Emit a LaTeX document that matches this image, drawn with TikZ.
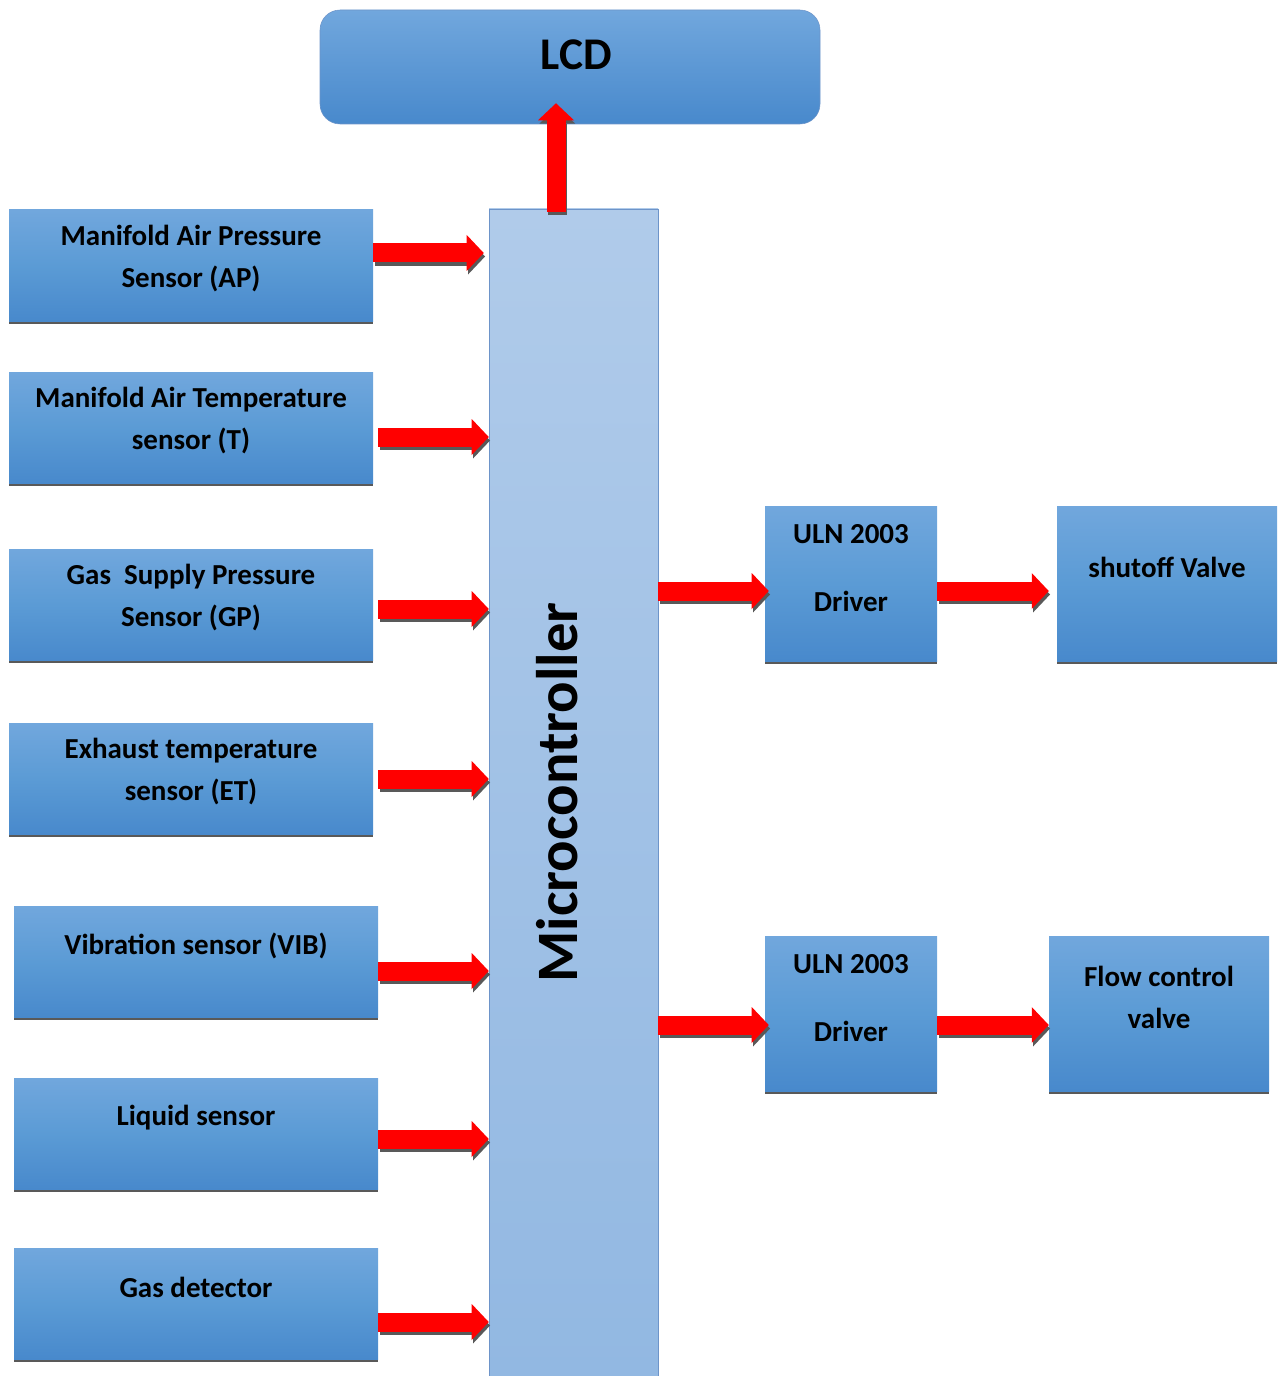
\documentclass[tikz,border=0pt]{standalone}
\usepackage{fontspec}
\setmainfont{Carlito}
\usetikzlibrary{arrows.meta, positioning, calc, shadows}

\definecolor{boxtop}{RGB}{113,167,221}
\definecolor{boxmid}{RGB}{91,155,213}
\definecolor{boxbot}{RGB}{72,137,204}
\definecolor{mctop}{RGB}{176,203,234}
\definecolor{mcbot}{RGB}{146,184,226}
\definecolor{mcline}{RGB}{109,148,201}

\tikzset{
  block/.style={top color=boxtop, bottom color=boxbot, middle color=boxmid, inner sep=0pt,
    drop shadow={shadow xshift=0.3pt, shadow yshift=-2.2pt, fill=black!65, opacity=1}},
  sensor/.style={block, minimum width=273pt, minimum height=83.25pt},
  driver/.style={block, minimum width=129pt, minimum height=116.25pt},
  actuator/.style={block, minimum width=165pt, minimum height=116.25pt},
  lbl/.style={font=\bfseries\fontsize{21.75pt}{31.5pt}\selectfont, align=center, inner sep=0pt},
  bigarrow/.style={line width=14.25pt, red, -{Triangle[length=12.75pt, width=27pt, line width=0pt]}},
  arrshadow/.style={bigarrow, black!65, transform canvas={xshift=1pt, yshift=-2.6pt}}
}

\begin{document}
\begin{tikzpicture}[x=0.75pt, y=-0.75pt]
  \useasboundingbox (0,0) rectangle (1283,1376);

  % display and controller
  \node[draw=mcline, top color=boxtop, bottom color=boxbot, rounded corners=15pt,
        minimum width=375pt, minimum height=85.5pt, inner sep=0pt] (lcd) at (570,67) {};
  \node[font=\bfseries\fontsize{34pt}{40pt}\selectfont, inner sep=0pt] (lcdt) at ($(lcd.center)+(6,-12)$) {LCD};
  \node[draw=mcline, top color=mctop, bottom color=mcbot, minimum width=126.75pt,
        minimum height=875.25pt, inner sep=0pt] (mc) at (573.5,792.5) {};
  \node[font=\bfseries\fontsize{44pt}{50pt}\selectfont, rotate=90, inner sep=0pt] (mct)
        at ($(mc.center)+(-16,0)$) {Microcontroller};

  % sensors
  \node[sensor] (ap) at (191,265.5) {};
  \node[sensor] (at) at (191,427.5) {};
  \node[sensor] (gp) at (191,605) {};
  \node[sensor] (et) at (191,779) {};
  \node[sensor] (vib) at (196,961.5) {};
  \node[sensor] (liq) at (196,1133.5) {};
  \node[sensor] (gas) at (196,1303.5) {};
  \node[lbl] (apt) at ($(ap.center)+(0,-7)$) {Manifold Air Pressure\\Sensor (AP)};
  \node[lbl] (att) at ($(at.center)+(0,-7)$) {Manifold Air Temperature\\sensor (T)};
  \node[lbl] (gpt) at ($(gp.center)+(0,-7)$) {Gas\ \ Supply Pressure\\Sensor (GP)};
  \node[lbl] (ett) at ($(et.center)+(0,-7)$) {Exhaust temperature\\sensor (ET)};
  \node[lbl] (vibt) at ($(vib.center)+(0,-16)$) {Vibration sensor (VIB)};
  \node[lbl] (liqt) at ($(liq.center)+(0,-16)$) {Liquid sensor};
  \node[lbl] (gast) at ($(gas.center)+(0,-16)$) {Gas detector};

  % drivers and valves
  \node[driver] (drv1) at (851,583.5) {};
  \node[driver] (drv2) at (851,1013.5) {};
  \node[actuator] (valve) at (1167,583.5) {};
  \node[actuator] (flow) at (1159,1013.5) {};
  \node[lbl] (drv1t) at ($(drv1.center)+(0,-15)$) {ULN 2003\\[19.5pt]Driver};
  \node[lbl] (drv2t) at ($(drv2.center)+(0,-15)$) {ULN 2003\\[19.5pt]Driver};
  \node[lbl] (valvet) at ($(valve.center)+(0,-16)$) {shutoff Valve};
  \node[lbl] (flowt) at ($(flow.center)+(0,-16)$) {Flow control\\valve};

  % arrows
  \foreach \src/\dst/\y/\s/\e in {ap/mc/253/0/3.75, at/mc/437/3.75/0, gp/mc/609/3.75/0,
      et/mc/779/3.75/0, vib/mc/971/0/0, liq/mc/1139/0/0, gas/mc/1322/0/0,
      mc/drv1/591/0/-3, drv1/valve/591/0/6, mc/drv2/1025/0/-3, drv2/flow/1025/0/0} {
    \draw[arrshadow, shorten <=\s pt, shorten >=\e pt] (\src.east |- 0,\y) -- (\dst.west |- 0,\y);
    \draw[bigarrow, shorten <=\s pt, shorten >=\e pt] (\src.east |- 0,\y) -- (\dst.west |- 0,\y);
  }
  \draw[arrshadow, shorten <=-2.25pt, shorten >=-15.75pt] (mc.north -| 556,0) -- (lcd.south -| 556,0);
  \draw[bigarrow, shorten <=-2.25pt, shorten >=-15.75pt] (mc.north -| 556,0) -- (lcd.south -| 556,0);
\end{tikzpicture}
\end{document}
